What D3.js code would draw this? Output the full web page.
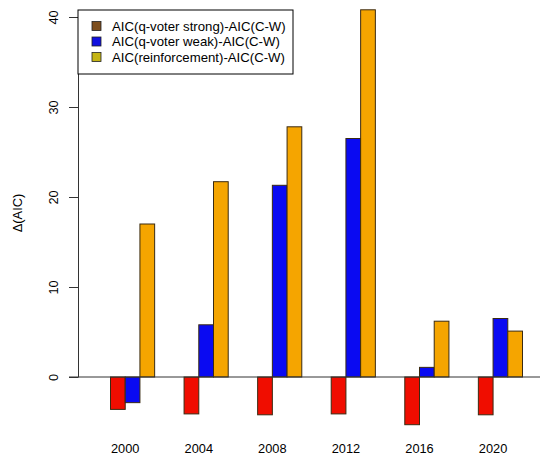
<!DOCTYPE html>
<html>
<head>
<meta charset="utf-8">
<script src="https://cdn.jsdelivr.net/npm/d3@7"></script>
<style>
  body { margin: 0; background: #fff; }
  text { font-family: "Liberation Sans", Arial, sans-serif; }
</style>
</head>
<body>
<svg id="chart" width="550" height="463"></svg>
<script>
// data
var years = ["2000", "2004", "2008", "2012", "2016", "2020"];
var strong = [-3.6, -4.1, -4.2, -4.1, -5.3, -4.2];
var weak = [-2.85, 5.8, 21.3, 26.5, 1.07, 6.5];
var reinforcement = [17.0, 21.7, 27.8, 40.8, 6.2, 5.1];
var seriesNames = ["AIC(q-voter strong)-AIC(C-W)", "AIC(q-voter weak)-AIC(C-W)", "AIC(reinforcement)-AIC(C-W)"];
var yTicks = [0, 10, 20, 30, 40];

var barColors = ["#f00d00", "#0a0af2", "#f5a500"];
var legendColors = ["#7d4e1e", "#1010e0", "#c4b414"];

var svg = d3.select("#chart");

var rows = years.map(function (yr, i) {
    return { year: yr, values: [strong[i], weak[i], reinforcement[i]] };
});

var y = d3.scaleLinear().domain([0, 40]).range([377, 17]);

var x0 = d3.scaleBand()
    .domain(years)
    .range([110.5, 522.5])
    .paddingInner(0.4)
    .paddingOuter(0);

var x1 = d3.scaleBand()
    .domain([0, 1, 2])
    .range([0, x0.bandwidth()]);

// bars
var groups = svg.append("g").selectAll("g")
    .data(rows)
    .enter().append("g")
    .attr("transform", function (d) { return "translate(" + x0(d.year) + ",0)"; });

groups.selectAll("rect")
    .data(function (d) { return d.values.map(function (v, k) { return { k: k, v: v }; }); })
    .enter().append("rect")
    .attr("x", function (d) { return x1(d.k); })
    .attr("width", x1.bandwidth())
    .attr("y", function (d) { return y(Math.max(0, d.v)); })
    .attr("height", function (d) { return Math.abs(y(d.v) - y(0)); })
    .attr("fill", function (d) { return barColors[d.k]; })
    .attr("stroke", "#3a2a12")
    .attr("stroke-width", 1);

// zero line
svg.append("line")
    .attr("x1", 69).attr("x2", 540)
    .attr("y1", y(0)).attr("y2", y(0))
    .attr("stroke", "#333")
    .attr("stroke-width", 1);

// y axis
var yAxis = svg.append("g")
    .attr("transform", "translate(78,0)")
    .call(d3.axisLeft(y).tickValues(yTicks).tickSize(9).tickSizeOuter(0));

yAxis.select(".domain").attr("stroke", "#333");
yAxis.selectAll(".tick line").attr("stroke", "#333");
yAxis.selectAll(".tick text")
    .attr("transform", "rotate(-90)")
    .attr("x", 0)
    .attr("y", -24)
    .attr("dy", "0.35em")
    .attr("text-anchor", "middle")
    .attr("font-size", "12.8px")
    .attr("font-family", "Liberation Sans, Arial, sans-serif")
    .attr("fill", "#000");

// year labels
svg.append("g").selectAll("text")
    .data(years)
    .enter().append("text")
    .attr("x", function (d) { return x0(d) + x1.bandwidth(); })
    .attr("y", 453)
    .attr("text-anchor", "middle")
    .attr("font-size", "12.8px")
    .text(function (d) { return d; });

// y label
svg.append("text")
    .attr("transform", "translate(22,213) rotate(-90)")
    .attr("text-anchor", "middle")
    .attr("font-size", "12.8px")
    .text("Δ(AIC)");

// legend
var legend = svg.append("g");
legend.append("rect")
    .attr("x", 78).attr("y", 10)
    .attr("width", 215).attr("height", 64)
    .attr("fill", "#fff")
    .attr("stroke", "#000")
    .attr("stroke-width", 1);

var items = legend.selectAll("g.item")
    .data(seriesNames)
    .enter().append("g")
    .attr("class", "item")
    .attr("transform", function (d, i) { return "translate(0," + (26 + i * 15.5) + ")"; });

items.append("rect")
    .attr("x", 92).attr("y", -4.5)
    .attr("width", 9).attr("height", 9)
    .attr("fill", function (d, i) { return legendColors[i]; })
    .attr("stroke", "#222")
    .attr("stroke-width", 0.8);

items.append("text")
    .attr("x", 112)
    .attr("dy", "0.35em")
    .attr("font-size", "13.2px")
    .text(function (d) { return d; });
</script>
</body>
</html>
